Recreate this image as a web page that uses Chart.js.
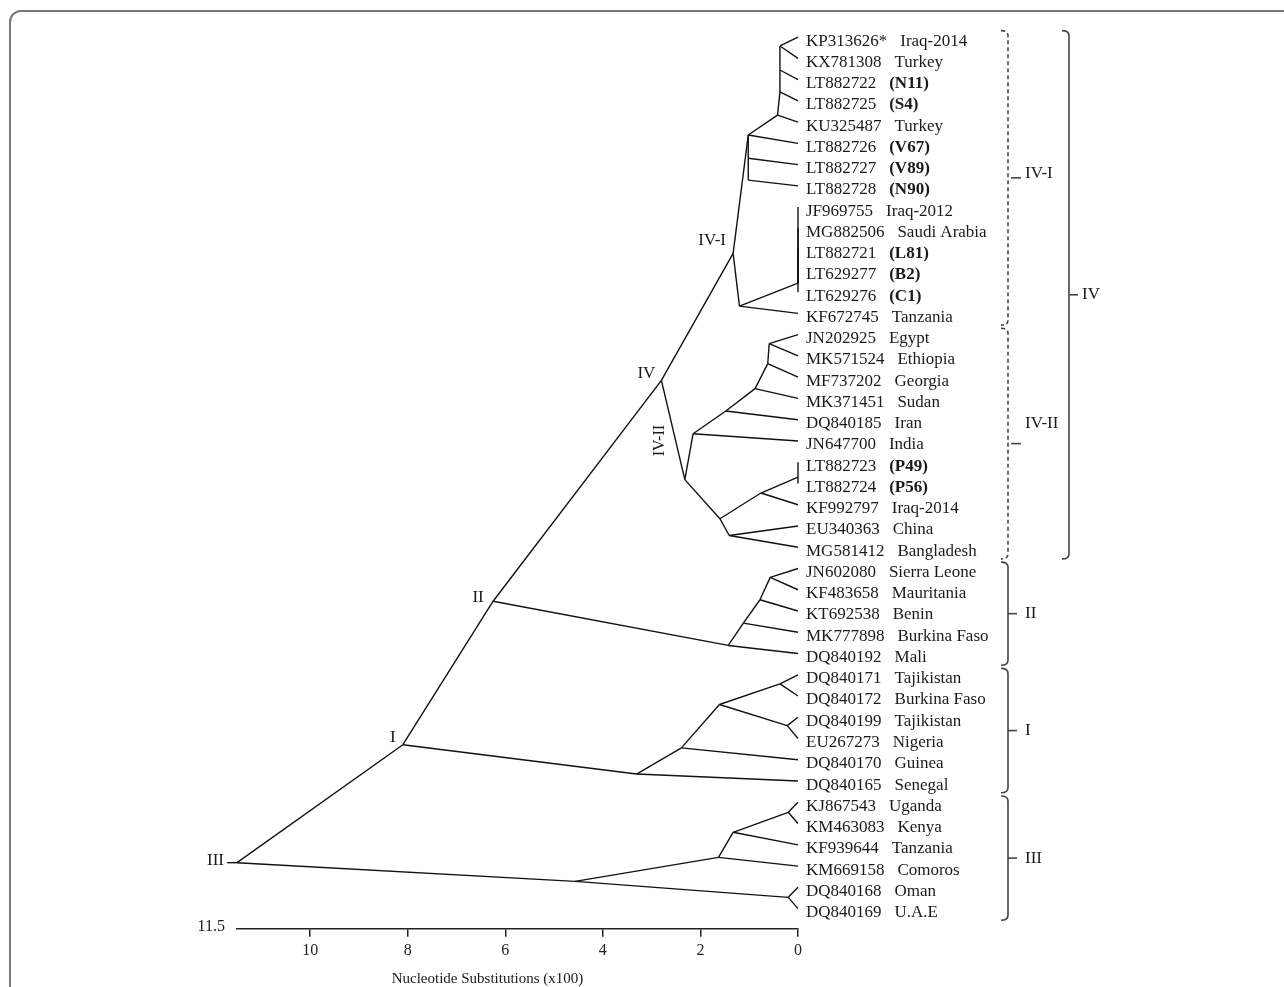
<!DOCTYPE html>
<html>
<head>
<meta charset="utf-8">
<script src="https://cdn.jsdelivr.net/npm/chart.js@4.4.1/dist/chart.umd.min.js"></script>
<style>
  html, body { margin: 0; padding: 0; background: #fff; overflow: hidden; }
  #c { position: absolute; left: 0; top: 0; }
  #frame { position: absolute; left: 9px; top: 10px; width: 1400px; height: 1200px;
           border: 2px solid #777; border-top-left-radius: 12px; pointer-events: none; }
</style>
</head>
<body>
<canvas id="c" width="1284" height="987"></canvas>
<div id="frame"></div>
<script>
const SERIF = '"Liberation Serif", "DejaVu Serif", serif';

// leaves, top to bottom
const accessions = ['KP313626*','KX781308','LT882722','LT882725','KU325487','LT882726','LT882727','LT882728',
  'JF969755','MG882506','LT882721','LT629277','LT629276','KF672745',
  'JN202925','MK571524','MF737202','MK371451','DQ840185','JN647700','LT882723','LT882724','KF992797','EU340363','MG581412',
  'JN602080','KF483658','KT692538','MK777898','DQ840192',
  'DQ840171','DQ840172','DQ840199','EU267273','DQ840170','DQ840165',
  'KJ867543','KM463083','KF939644','KM669158','DQ840168','DQ840169'];
const places = ['Iraq-2014','Turkey','(N11)','(S4)','Turkey','(V67)','(V89)','(N90)',
  'Iraq-2012','Saudi Arabia','(L81)','(B2)','(C1)','Tanzania',
  'Egypt','Ethiopia','Georgia','Sudan','Iran','India','(P49)','(P56)','Iraq-2014','China','Bangladesh',
  'Sierra Leone','Mauritania','Benin','Burkina Faso','Mali',
  'Tajikistan','Burkina Faso','Tajikistan','Nigeria','Guinea','Senegal',
  'Uganda','Kenya','Tanzania','Comoros','Oman','U.A.E'];

// internal nodes: name, distance (x100 substitutions), vertical position (leaf units)
const innerNodes = [
  ['stub', 11.7, 38.84], ['root', 11.5, 38.84],
  ['nI', 8.10, 33.29], ['nII', 6.25, 26.54], ['nIV', 2.80, 16.15],
  ['nIVI', 1.33, 10.18], ['nA', 1.02, 4.61], ['nB', 1.02, 5.70], ['nC', 1.02, 6.73],
  ['nT4', 0.42, 3.67], ['nT3', 0.37, 2.58], ['nT2', 0.37, 1.55], ['nT1', 0.37, 0.42],
  ['nK', 1.20, 12.66], ['nSame', 0.0, 11.58],
  ['nIVII', 2.32, 20.82], ['nE1', 2.15, 18.66], ['nE2', 1.48, 17.59], ['nE3', 0.88, 16.54],
  ['nE4', 0.62, 15.36], ['nE5', 0.59, 14.42],
  ['nP1', 1.60, 22.66], ['nP2', 0.76, 21.45], ['nP3', 0.0, 20.7], ['nP4', 1.41, 23.45],
  ['nM4', 1.43, 28.62], ['nM3', 1.12, 27.57], ['nM2', 0.78, 26.47], ['nM1', 0.57, 25.42],
  ['nS1', 3.31, 34.67], ['nS2', 2.39, 33.44], ['nS3', 1.61, 31.40], ['nS4', 0.37, 30.43], ['nS5', 0.22, 32.39],
  ['nU1', 4.57, 39.72], ['nU2', 1.63, 38.59], ['nU3', 1.33, 37.41], ['nU4', 0.20, 36.47], ['nU5', 0.20, 40.47]
];

// branches (parent, child); Ln = leaf n
const edges = [
  ['stub','root'], ['root','nI'], ['root','nU1'],
  ['nI','nII'], ['nI','nS1'], ['nII','nIV'], ['nII','nM4'],
  ['nIV','nIVI'], ['nIV','nIVII'],
  ['nIVI','nA'], ['nIVI','nK'],
  ['nA','nT4'], ['nA','L5'], ['nA','nB'], ['nB','L6'], ['nB','nC'], ['nC','L7'],
  ['nT4','L4'], ['nT4','nT3'], ['nT3','L3'], ['nT3','nT2'], ['nT2','L2'], ['nT2','nT1'], ['nT1','L0'], ['nT1','L1'],
  ['nK','nSame'], ['nK','L13'], ['nSame','L8'], ['nSame','L9'], ['nSame','L10'], ['nSame','L11'], ['nSame','L12'],
  ['nIVII','nE1'], ['nIVII','nP1'],
  ['nE1','nE2'], ['nE1','L19'], ['nE2','nE3'], ['nE2','L18'], ['nE3','nE4'], ['nE3','L17'],
  ['nE4','nE5'], ['nE4','L16'], ['nE5','L14'], ['nE5','L15'],
  ['nP1','nP2'], ['nP1','nP4'], ['nP2','nP3'], ['nP2','L22'], ['nP3','L20'], ['nP3','L21'], ['nP4','L23'], ['nP4','L24'],
  ['nM4','nM3'], ['nM4','L29'], ['nM3','nM2'], ['nM3','L28'], ['nM2','nM1'], ['nM2','L27'], ['nM1','L25'], ['nM1','L26'],
  ['nS1','nS2'], ['nS1','L35'], ['nS2','nS3'], ['nS2','L34'], ['nS3','nS4'], ['nS3','nS5'],
  ['nS4','L30'], ['nS4','L31'], ['nS5','L32'], ['nS5','L33'],
  ['nU1','nU2'], ['nU1','nU5'], ['nU2','nU3'], ['nU2','L39'], ['nU3','nU4'], ['nU3','L38'],
  ['nU4','L36'], ['nU4','L37'], ['nU5','L40'], ['nU5','L41']
];

// node labels: text, node, dx, dy, align, rotated
const nodeTags = [
  ['III', 'root', -13, -2, 'right', false],
  ['I', 'nI', -10, -7, 'center', false],
  ['II', 'nII', -15, -4, 'center', false],
  ['IV', 'nIV', -15, -7, 'center', false],
  ['IV-I', 'nIVI', -21, -13, 'center', false],
  ['IV-II', 'nIVII', -25, -39, 'center', true]
];

// clade brackets: name, first leaf, last leaf, dashed, column, label dy
const clades = [
  ['IV-I', 0, 13, true, 0, -4],
  ['IV-II', 14, 24, true, 0, -20],
  ['IV', 0, 24, false, 1, 0],
  ['II', 25, 29, false, 0, 0],
  ['I', 30, 35, false, 0, 0],
  ['III', 36, 41, false, 0, 0]
];
const xTicks = [0, 2, 4, 6, 8, 10];

const pos = {};
innerNodes.forEach(n => { pos[n[0]] = {x: n[1], y: n[2]}; });
accessions.forEach((a, i) => { pos['L' + i] = {x: 0, y: i}; });

const datasets = edges.map(e => ({
  data: [pos[e[0]], pos[e[1]]],
  showLine: true,
  borderColor: '#111',
  borderWidth: 1.4,
  pointRadius: 0,
  clip: false
}));

function drawBracket(ctx, bx, top, bottom, dashed) {
  ctx.setLineDash(dashed ? [4, 3] : []);
  ctx.beginPath();
  ctx.moveTo(bx - 7, top);
  ctx.quadraticCurveTo(bx, top, bx, top + 5);
  ctx.lineTo(bx, bottom - 5);
  ctx.quadraticCurveTo(bx, bottom, bx - 7, bottom);
  ctx.stroke();
  ctx.setLineDash([]);
  const mid = (top + bottom) / 2;
  ctx.beginPath();
  ctx.moveTo(bx + (dashed ? 3 : 0), mid);
  ctx.lineTo(bx + (dashed ? 13 : 9), mid);
  ctx.stroke();
}

const treeText = {
  id: 'treeText',
  afterDatasetsDraw(chart) {
    const {ctx, scales: {x, y}, chartArea} = chart;
    const x0 = x.getPixelForValue(0);
    ctx.save();
    ctx.fillStyle = '#1a1a1a';
    ctx.textBaseline = 'middle';

    // tip labels
    accessions.forEach((acc, i) => {
      const py = y.getPixelForValue(i) + 4;
      ctx.textAlign = 'left';
      ctx.font = '17px ' + SERIF;
      ctx.fillText(acc, x0 + 8, py);
      const w = ctx.measureText(acc).width;
      const pl = places[i];
      ctx.font = (pl.startsWith('(') ? 'bold ' : '') + '17px ' + SERIF;
      ctx.fillText(pl, x0 + 8 + w + 13, py);
    });

    // node labels
    nodeTags.forEach(t => {
      const p = pos[t[1]];
      const px = x.getPixelForValue(p.x) + t[2];
      const py = y.getPixelForValue(p.y) + t[3];
      ctx.font = (t[5] ? '16px ' : '17px ') + SERIF;
      ctx.textAlign = t[4];
      if (t[5]) {
        ctx.save();
        ctx.translate(px, py);
        ctx.rotate(-Math.PI / 2);
        ctx.fillText(t[0], 0, 0);
        ctx.restore();
      } else {
        ctx.fillText(t[0], px, py);
      }
    });

    // brackets
    ctx.strokeStyle = '#444';
    ctx.lineWidth = 1.6;
    clades.forEach(c => {
      const bx = x0 + (c[4] ? 271 : 210);
      const top = y.getPixelForValue(c[1] - 0.3);
      const bottom = y.getPixelForValue(c[2] + 0.55);
      drawBracket(ctx, bx, top, bottom, c[3]);
      ctx.font = '17px ' + SERIF;
      ctx.textAlign = 'left';
      ctx.fillText(c[0], bx + (c[4] ? 13 : 17), (top + bottom) / 2 + c[5]);
    });

    // scale end value and axis title
    ctx.font = '16px ' + SERIF;
    ctx.textAlign = 'right';
    ctx.fillText('11.5', x.getPixelForValue(11.5) - 12, chartArea.bottom - 2);
    ctx.font = '15px ' + SERIF;
    ctx.textAlign = 'center';
    ctx.fillText('Nucleotide Substitutions (x100)', (chartArea.left + chartArea.right) / 2 - 30, chart.height - 8);
    ctx.restore();
  }
};

new Chart(document.getElementById('c'), {
  type: 'scatter',
  data: { datasets },
  options: {
    responsive: false,
    devicePixelRatio: 1,
    animation: false,
    layout: { padding: { left: 237, right: 486, top: 16, bottom: 23 } },
    plugins: { legend: { display: false }, tooltip: { enabled: false } },
    scales: {
      x: {
        type: 'linear',
        reverse: true,
        min: 0,
        max: 11.5,
        border: { color: '#222', width: 1.5 },
        grid: { drawOnChartArea: false, tickLength: 8, color: '#222', lineWidth: 1.5 },
        ticks: { stepSize: 2, padding: 4, color: '#222', maxRotation: 0, font: { family: SERIF, size: 16 } },
        afterBuildTicks: s => { s.ticks = xTicks.map(v => ({ value: v })); }
      },
      y: {
        type: 'linear',
        reverse: true,
        min: -0.99,
        max: 41.95,
        display: false
      }
    }
  },
  plugins: [treeText]
});
</script>
</body>
</html>
